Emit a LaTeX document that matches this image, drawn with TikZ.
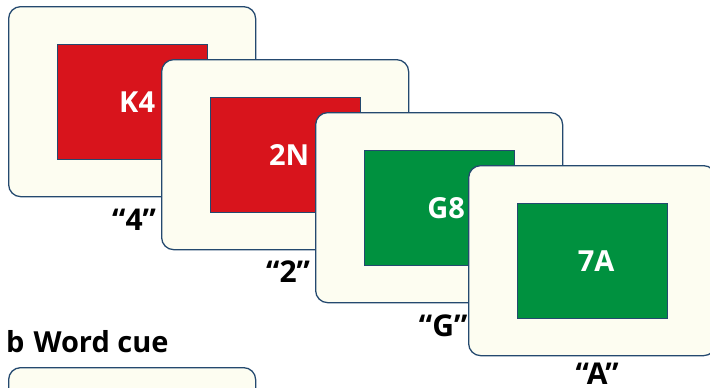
\documentclass[tikz,border=0pt]{standalone}
\usepackage{fontspec}
\setmainfont{Open Sans}
\usetikzlibrary{calc}
\definecolor{edge}{HTML}{24496F}
\definecolor{cream}{HTML}{FDFDF1}
\definecolor{cuered}{HTML}{D8141C}
\definecolor{cuegreen}{HTML}{00913F}
\tikzset{
  card/.style={draw=edge, line width=1.3pt, fill=cream, rounded corners=12pt,
    minimum width=247pt, minimum height=190pt, anchor=north west, inner sep=0pt},
  stim/.style={draw=edge, line width=1.1pt, minimum width=150pt, minimum height=115pt,
    inner sep=0pt, text=white, font=\fontsize{29}{29}\selectfont\bfseries},
  redstim/.style={stim, fill=cuered},
  greenstim/.style={stim, fill=cuegreen},
  say/.style={anchor=base, font=\fontsize{30}{30}\selectfont\bfseries, inner sep=0pt},
  heading/.style={anchor=base west, font=\fontsize{29}{29}\selectfont\bfseries, inner sep=0pt}
}
\begin{document}
\begin{tikzpicture}[x=1pt,y=-1pt]
\useasboundingbox (0,0) rectangle (710,388);
\clip (0,0) rectangle (710,388);
% card 1
\node[card] (c1) at (8,6) {};
\node[redstim] (s1) at (c1.center) {\hspace*{10pt}K4};
\node[say] (l1) at ($(c1.south)+(2,33)$) {“4”};
% card 2
\node[card] (c2) at (161,59) {};
\node[redstim] (s2) at (c2.center) {\hspace*{8pt}2N};
\node[say] (l2) at ($(c2.south)+(3,32)$) {“2”};
% card 3
\node[card] (c3) at (315,112) {};
\node[greenstim] (s3) at (c3.center) {\hspace*{14pt}G8};
\node[say] (l3) at ($(c3.south)+(4,33)$) {“G”};
% card 4
\node[card] (c4) at (468,165) {};
\node[greenstim] (s4) at (c4.center) {\hspace*{8pt}7A};
\node[say] (l4) at ($(c4.south)+(5,28)$) {“A”};
% heading b
\node[heading] (hb) at (6,352) {b\hspace{9pt}Word cue};
\node[card] (c5) at (8,367) {};
\end{tikzpicture}
\end{document}
